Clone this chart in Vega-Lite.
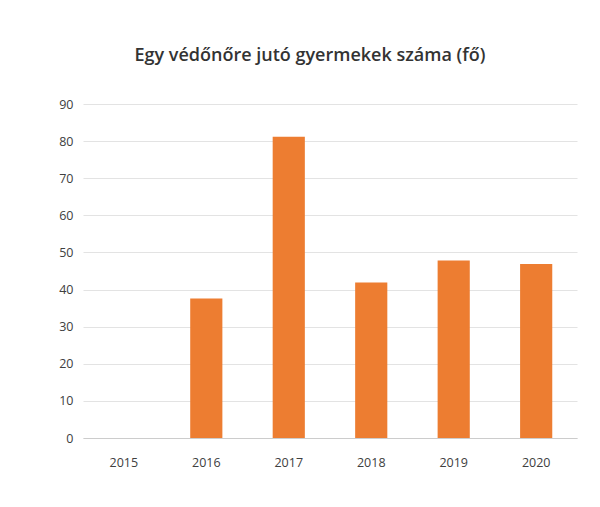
{
  "$schema": "https://vega.github.io/schema/vega-lite/v6.json",
  "width": 494,
  "height": 334,
  "autosize": {"type": "none"},
  "padding": {"left": 83, "top": 104, "right": 23, "bottom": 69},
  "background": "white",
  "title": {
    "text": "Egy védőnőre jutó gyermekek száma (fő)",
    "fontSize": 18,
    "font": "Open Sans",
    "fontWeight": 600,
    "color": "#333333",
    "anchor": "middle",
    "dx": -20,
    "offset": 33
  },
  "data": {
    "values": [
      {"ev": "2015", "ertek": 0},
      {"ev": "2016", "ertek": 37.6},
      {"ev": "2017", "ertek": 81.2},
      {"ev": "2018", "ertek": 41.9},
      {"ev": "2019", "ertek": 47.8},
      {"ev": "2020", "ertek": 46.9}
    ]
  },
  "mark": {"type": "bar", "color": "#ED7D31"},
  "encoding": {
    "x": {
      "field": "ev",
      "type": "nominal",
      "title": null,
      "scale": {"paddingInner": 0.61, "paddingOuter": 0.3},
      "axis": {
        "labelAngle": 0,
        "labelFont": "Open Sans",
        "labelFontSize": 12.5,
        "labelColor": "#404040",
        "labelPadding": 18,
        "ticks": false,
        "domainColor": "#cccccc",
        "grid": false
      }
    },
    "y": {
      "field": "ertek",
      "type": "quantitative",
      "title": null,
      "scale": {"domain": [0, 90], "nice": false},
      "axis": {
        "values": [0, 10, 20, 30, 40, 50, 60, 70, 80, 90],
        "labelFont": "Open Sans",
        "labelFontSize": 12.5,
        "labelColor": "#404040",
        "labelPadding": 10,
        "ticks": false,
        "domain": false,
        "gridColor": "#e3e3e3",
        "gridWidth": 1
      }
    }
  },
  "config": {"view": {"stroke": null}}
}
